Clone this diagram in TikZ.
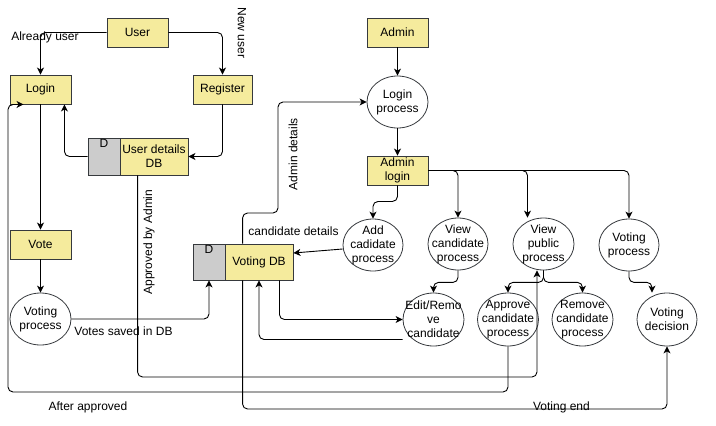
\documentclass[tikz,border=0pt]{standalone}
\usepackage{fontspec}
\setmainfont{Liberation Sans}
\usetikzlibrary{shapes.geometric,arrows.meta,calc}
\definecolor{boxyellow}{RGB}{245,235,157}
\definecolor{boxgray}{RGB}{204,204,204}
\definecolor{edgegray}{RGB}{54,57,61}
\begin{document}
\begin{tikzpicture}[x=1pt,y=-1pt,
  font=\fontsize{12}{14}\selectfont,
  proc/.style={draw=edgegray, line width=0.9pt, fill=boxyellow, minimum width=61pt, minimum height=29pt, inner sep=0pt, align=center},
  bubble/.style={draw=edgegray, line width=0.8pt, fill=white, ellipse, minimum width=61pt, minimum height=52pt, inner sep=0pt,
     label={[align=center, inner sep=0pt]center:#1}},
  dstore/.style={draw=edgegray, line width=0.9pt, fill=boxgray, minimum width=32pt, inner sep=0pt,
     label={[anchor=north, inner sep=1pt]north:D}},
  dbox/.style={draw=edgegray, line width=0.9pt, fill=boxyellow, minimum width=68pt, inner sep=0pt, align=center},
  flow/.style={draw=black, line width=0.9pt, rounded corners=5pt, -{Stealth[length=7pt,width=7pt,inset=2pt]}},
  lbl/.style={inner sep=0pt}
]
\useasboundingbox (0,0) rectangle (716,426);

% nodes
\node[proc] (user) at (137.5,32.5) {User};
\node[proc] (login) at (40.5,89.5) {Login};
\node[proc, minimum width=59pt] (register) at (222.5,89.5) {Register};
\node[dstore, minimum height=37pt] (udbD) at (104,156.5) {};
\node[dbox, minimum height=37pt] (udb) at (154,156.5) {User details\\DB};
\node[proc] (vote) at (40.5,244.5) {Vote};
\node[bubble={Voting\\process}] (vp) at (40.5,319) {};
\node[dstore, minimum height=36pt] (vdbD) at (209,262) {};
\node[dbox, minimum height=36pt] (vdb) at (259,262) {Voting DB};
\node[proc] (admin) at (397.5,32.5) {Admin};
\node[bubble={Login\\process}] (lp) at (397.5,102) {};
\node[proc] (alogin) at (397.5,170.5) {Admin\\login};
\node[bubble={Add\\cadidate\\process}, minimum width=60pt] (add) at (373,245) {};
\node[bubble={View\\candidate\\process}, minimum width=60pt] (vc) at (458,244) {};
\node[bubble={View\\public\\process}] (vpub) at (543.5,244) {};
\node[bubble={Voting\\process}, minimum width=60pt] (vproc) at (629,245) {};
\node[bubble={Edit/Remo\\ve\\candidate}, minimum height=53pt] (edit) at (433.5,319.5) {};
\node[bubble={Approve\\candidate\\process}, minimum height=53pt] (appr) at (508,319.5) {};
\node[bubble={Remove\\candidate\\process}, minimum height=53pt] (rem) at (582.5,319.5) {};
\node[bubble={Voting\\decision}, minimum width=60pt, minimum height=53pt] (vdec) at (667,319.5) {};

% waypoints
\coordinate (c8) at (300,377);
\coordinate (c9) at (8,392);
\coordinate (c10) at (400,409);
\coordinate (c11) at (278,213);

% connectors
\draw[flow] (user.west) -| (login.north);
\draw[flow] (user.east) -| (register.north);
\draw[flow] (register.south) |- (udb.east);
\draw[flow] (udbD.west) -| ([xshift=-7pt]login.south east);
\draw[flow] (login.south) -- (vote.north);
\draw[flow] (vote.south) -- (vp.north);
\draw[flow] (vp.east) -| (vdbD.south);
\draw[flow] ([xshift=18pt]udb.south west) |- (c8) -| ([xshift=-6.5pt]vpub.south);
\draw[flow] (appr.south) |- (c9) |- ([xshift=14pt]login.south west);
\draw[flow] ([xshift=18pt]vdb.south west) |- (c10) -| (vdec.south);
\draw[flow] ([xshift=18pt]vdb.north west) |- (c11) |- (lp.west);
\draw[flow] ([xshift=-14pt]vdb.south east) |- (edit.west);
\draw[flow] ([yshift=-20pt]edit.west) -| (vdb.south);
\draw[flow] ([yshift=-4pt]add.west) -- ([yshift=9pt]vdb.east);
\draw[flow] (admin.south) -- (lp.north);
\draw[flow] (lp.south) -- (alogin.north);
\draw[flow] (alogin.south) -- ++(0,16) -| (add.north);
\draw[flow] (alogin.east) -| (vc.north);
\draw[flow] (alogin.east) -| ([xshift=-16pt]vpub.north);
\draw[flow] (alogin.east) -| (vproc.north);
\draw[flow] (vc.south) -- ++(0,12) -| (edit.north);
\draw[flow] (vpub.south) -- ++(0,12) -| (appr.north);
\draw[flow] (vpub.south) -- ++(0,12) -| (rem.north);
\draw[flow] (vproc.south) -- ++(0,11) -| ([xshift=-15pt]vdec.north);

% labels
\node[lbl] (l1) at (45,37) {Already user};
\node[lbl, rotate=-90] (l2) at (242,33) {New user};
\node[lbl] (l3) at (123.5,331) {Votes saved in DB};
\node[lbl, rotate=90] (l4) at (149,242) {Approved by Admin};
\node[lbl] (l5) at (88,407) {After approved};
\node[lbl] (l6) at (293.5,231) {candidate details};
\node[lbl, rotate=90] (l7) at (293,154) {Admin details};
\node[lbl] (l8) at (561.5,407) {Voting end};
\end{tikzpicture}
\end{document}
